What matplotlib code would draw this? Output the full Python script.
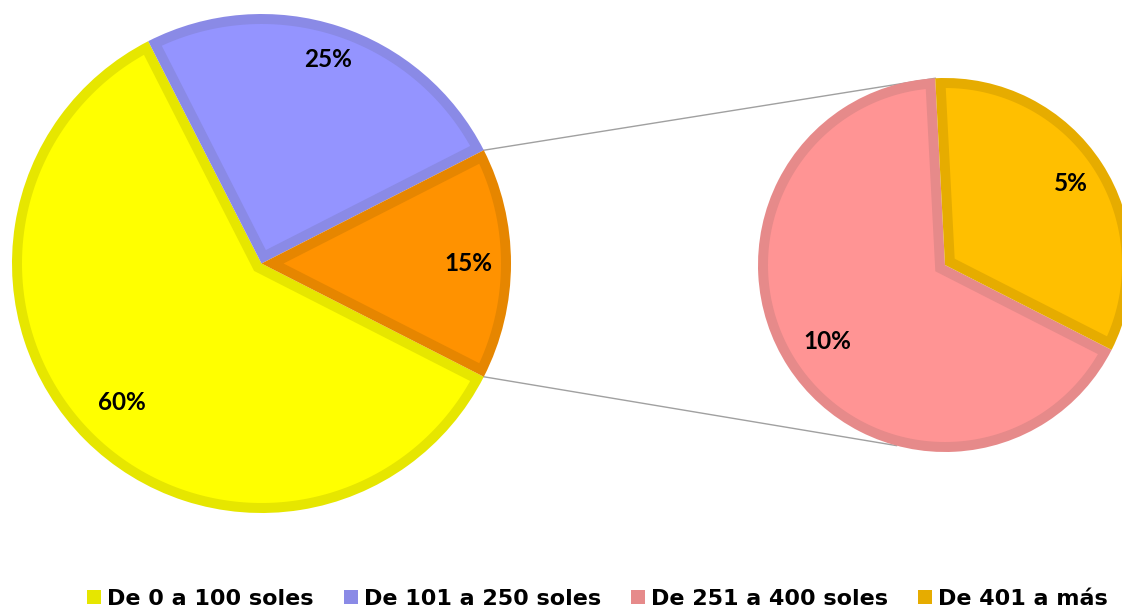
import matplotlib
matplotlib.use("Agg")
import matplotlib.pyplot as plt
import numpy as np
from matplotlib.patches import Patch, Polygon
from matplotlib.font_manager import FontProperties

# ---- data ----
categories = ["De 0 a 100 soles", "De 101 a 250 soles", "De 251 a 400 soles", "De 401 a más"]
values = [60, 25, 10, 5]
main_labels = ["60%", "25%", "15%"]
sub_labels = ["10%", "5%"]

fill_colors = ["#FFFF00", "#9494FF", "#FF9494", "#FFBF00"]
edge_colors = ["#E6E600", "#8A8AE6", "#E68A8A", "#E6AC00"]
other_fill = "#FF9200"
other_edge = "#E68600"

W, H = 1122, 609
fig = plt.figure(figsize=(W / 100, H / 100), dpi=100)
ax = fig.add_axes([0, 0, 1, 1])

label_font = dict(family=["Lato", "DejaVu Sans"], weight="bold", size=17.5, color="black")
BORDER = 10.0  # inner border width in data units (= pixels)
START = 333    # first-slice angle shared by both pies


def inner_fill(w, d, color):
    """Fill the wedge interior leaving an inner border of width d (mitred)."""
    cx, cy = w.center
    r = w.r
    t1, t2 = np.deg2rad(w.theta1), np.deg2rad(w.theta2)
    half = 0.5 * (t2 - t1)
    b = 0.5 * (t1 + t2)
    k = d / np.sin(half)
    corner = (cx + k * np.cos(b), cy + k * np.sin(b))
    delta = np.arcsin(d / (r - d))
    ang = np.linspace(t1 + delta, t2 - delta, 300)
    pts = [corner] + list(zip(cx + (r - d) * np.cos(ang), cy + (r - d) * np.sin(ang)))
    ax.add_patch(Polygon(pts, closed=True, facecolor=color, edgecolor="none", zorder=w.get_zorder() + 0.1))


# main pie
main_vals = values[:2] + [sum(values[2:])]
c1 = (261.5, H - 263.5)
r1 = 249.5
w1, _ = ax.pie(main_vals, colors=[edge_colors[0], edge_colors[1], other_edge],
               startangle=START, counterclock=False, center=c1, radius=r1,
               wedgeprops=dict(linewidth=0))
for w, fc in zip(w1, [fill_colors[0], fill_colors[1], other_fill]):
    inner_fill(w, BORDER, fc)

# secondary pie
c2 = (945.0, H - 265.0)
r2 = 187.0
w2, _ = ax.pie(values[2:], colors=edge_colors[2:], startangle=START, counterclock=False,
               center=c2, radius=r2, wedgeprops=dict(linewidth=0))
for w, fc in zip(w2, fill_colors[2:]):
    inner_fill(w, BORDER, fc)


def place(w, text, frac, dang=0.0):
    a = np.deg2rad(0.5 * (w.theta1 + w.theta2) + dang)
    cx, cy = w.center
    ax.text(cx + frac * w.r * np.cos(a), cy + frac * w.r * np.sin(a), text,
            ha="center", va="center", zorder=5, **label_font)


for w, t, f in zip(w1, main_labels, [0.79, 0.86, 0.83]):
    place(w, t, f)
for w, t, f in zip(w2, sub_labels, [0.75, 0.80]):
    place(w, t, f)

# connector lines
other = w1[2]
pink = w2[0]
ocx, ocy = other.center
pcx, pcy = pink.center
top_a = np.deg2rad(other.theta2)
bot_a = np.deg2rad(other.theta1)
p_top = np.deg2rad(pink.theta1)
p_bot = np.deg2rad(255)
ax.plot([ocx + other.r * np.cos(top_a), pcx + pink.r * np.cos(p_top)],
        [ocy + other.r * np.sin(top_a), pcy + pink.r * np.sin(p_top)],
        color="#A0A0A0", lw=1.0, zorder=0)
ax.plot([ocx + other.r * np.cos(bot_a), pcx + pink.r * np.cos(p_bot)],
        [ocy + other.r * np.sin(bot_a), pcy + pink.r * np.sin(p_bot)],
        color="#A0A0A0", lw=1.0, zorder=0)

ax.set_xlim(0, W)
ax.set_ylim(0, H)
ax.set_aspect("equal")
ax.axis("off")

# legend
handles = [Patch(facecolor=ec, edgecolor="none") for ec in edge_colors]
fig.legend(handles=handles, labels=categories, ncol=4, loc="center",
           bbox_to_anchor=(0.5325, 1 - 599 / H), frameon=False,
           prop=FontProperties(family=["DejaVu Sans"], weight="bold", size=16),
           handlelength=0.63, handleheight=0.63, handletextpad=0.27, columnspacing=1.35,
           borderaxespad=0, borderpad=0)

fig.savefig("out.png", dpi=100)
